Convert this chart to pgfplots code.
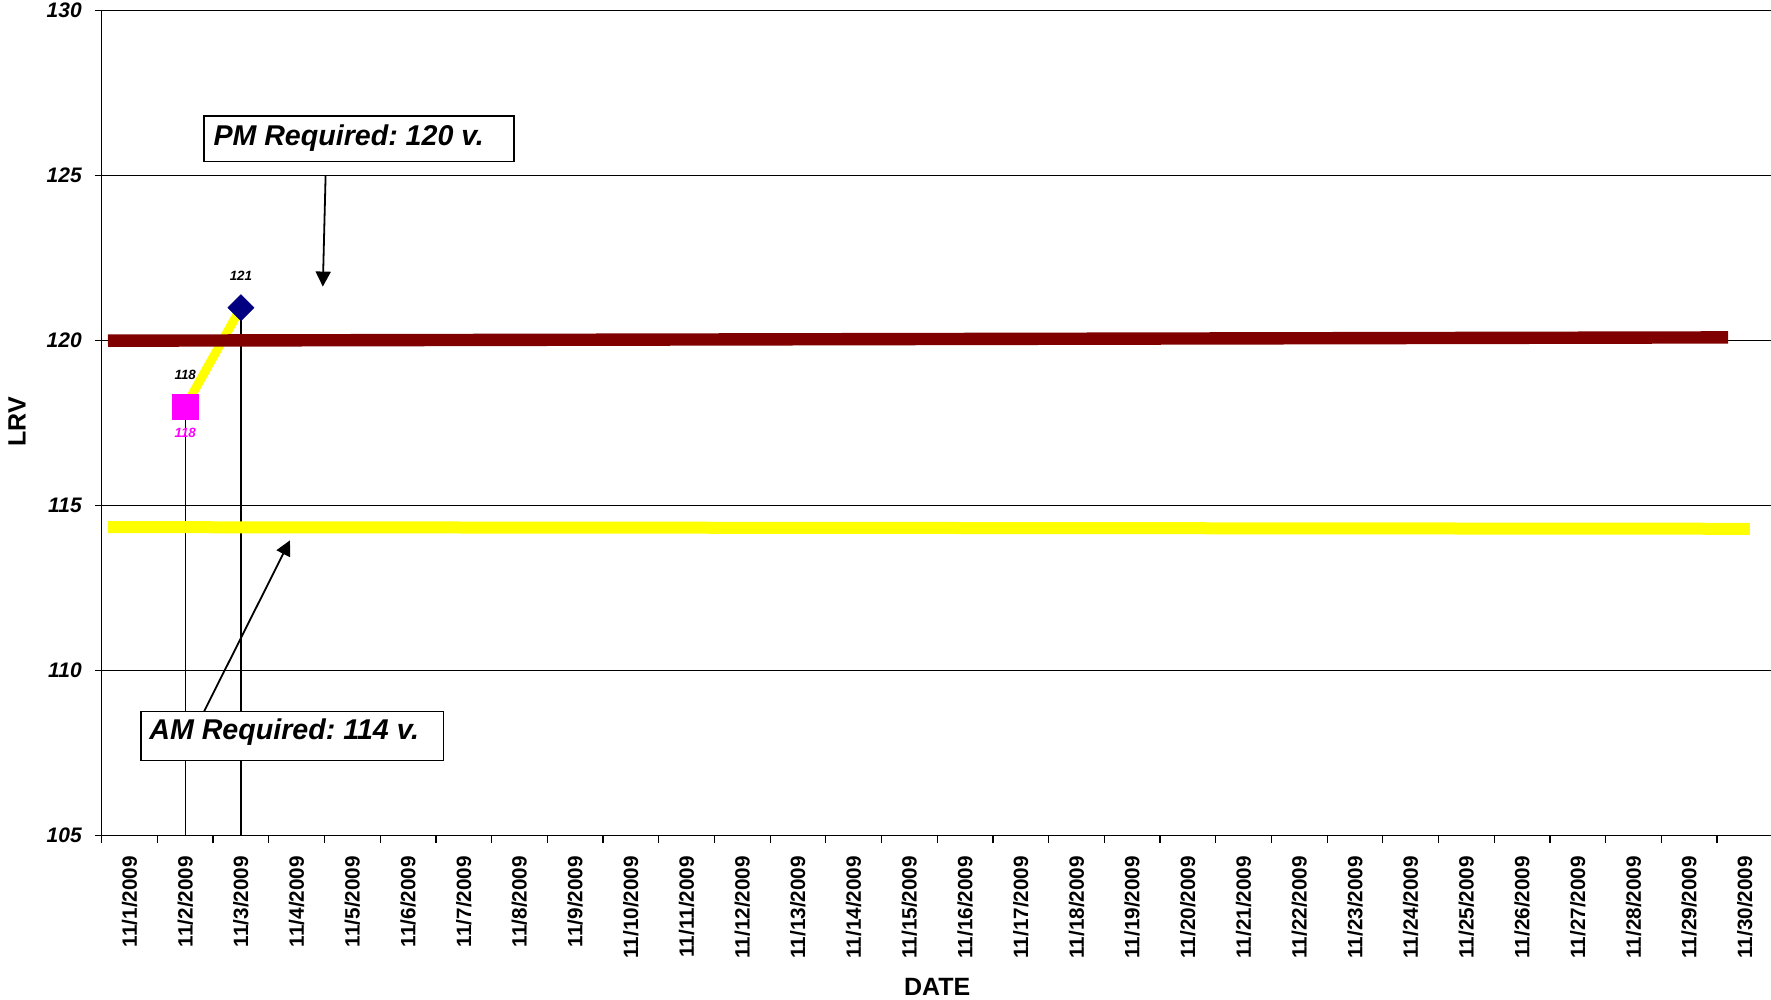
\documentclass[border=0pt]{standalone}
\usepackage{fontspec}
\setmainfont{Liberation Sans}
\usepackage{pgfplots}
\pgfplotsset{compat=1.18}
\usetikzlibrary{arrows.meta}
\definecolor{pmred}{HTML}{800000}
\definecolor{navyb}{HTML}{000080}
\definecolor{mag}{HTML}{FF00FF}
\definecolor{yel}{HTML}{FFFF00}
\frenchspacing
\begin{document}
\begin{tikzpicture}
\begin{axis}[
  scale only axis, width=835.5pt, height=412.5pt,
  at={(0,0)}, anchor=south west,
  xmin=0.5, xmax=30.5, ymin=105, ymax=130,
  clip=false,
  axis x line*=bottom, axis y line*=left,
  axis line style={black, line width=0.6pt},
  /pgf/number format/assume math mode=true,
  ytick={105,110,115,120,125,130},
  ymajorgrids, major grid style={black, line width=0.5pt},
  tick align=outside, major tick length=3.5pt,
  tick style={black, line width=0.6pt},
  xtick={0.5,1.5,...,30.5}, xticklabels={},
  extra x ticks={1,2,...,30},
  extra x tick style={major tick length=0pt, grid=none},
  extra x tick labels={11/1/2009,11/2/2009,11/3/2009,11/4/2009,11/5/2009,11/6/2009,11/7/2009,11/8/2009,11/9/2009,11/10/2009,11/11/2009,11/12/2009,11/13/2009,11/14/2009,11/15/2009,11/16/2009,11/17/2009,11/18/2009,11/19/2009,11/20/2009,11/21/2009,11/22/2009,11/23/2009,11/24/2009,11/25/2009,11/26/2009,11/27/2009,11/28/2009,11/29/2009,11/30/2009},
  xticklabel style={rotate=90, anchor=east, inner sep=0pt, font=\bfseries\fontsize{10.35}{12}\selectfont},
  xticklabel shift=10pt,
  yticklabel style={font=\bfseries\itshape\fontsize{10.5}{12}\selectfont, inner sep=0pt},
  yticklabel shift=6.3pt,
  xlabel={DATE},
  xlabel style={at={(axis description cs:0.5,-0.1834)}, anchor=center, font=\bfseries\fontsize{12.5}{14}\selectfont},
  ylabel={LRV},
  ylabel style={at={(axis description cs:-0.0507,0.5015)}, anchor=center, font=\bfseries\fontsize{12.5}{14}\selectfont},
]
% drop lines
\addplot[black, line width=0.6pt] coordinates {(2,105) (2,118)};
\addplot[black, line width=0.6pt] coordinates {(3,105) (3,121)};
% yellow connecting line with labels above
\addplot[yel, line width=4.5pt, mark=none, nodes near coords,
  nodes near coords style={black, anchor=center, yshift=16pt, inner sep=0pt, font=\bfseries\itshape\fontsize{6.7}{8}\selectfont}]
  coordinates {(2,118) (3,121)};
% AM point
\addplot[only marks, mark=square*, mark size=6.4pt, mark options={fill=mag, draw=mag, line width=0.3pt}, nodes near coords,
  nodes near coords style={mag, anchor=center, yshift=-13pt, inner sep=0pt, font=\bfseries\itshape\fontsize{6.7}{8}\selectfont}]
  coordinates {(2,118)};
% PM point
\addplot[only marks, mark=square*, mark size=4.6pt, mark options={rotate=45, fill=navyb, draw=navyb, line width=0.3pt}]
  coordinates {(3,121)};
% required levels
\addplot[pmred, line width=6.2pt] coordinates {(0.613,120.0) (29.70,120.1)};
\addplot[yel, line width=6pt] coordinates {(0.613,114.35) (30.09,114.3)};
% annotations
\draw[black, line width=0.9pt, -{Triangle[length=7.5pt,width=7.5pt]}] (axis cs:4.52,125.02) -- (axis cs:4.47,121.64);
\draw[black, line width=0.9pt, -{Triangle[length=7.5pt,width=7.5pt]}] (axis cs:2.33,108.74) -- (axis cs:3.88,113.95);
\draw[black, line width=0.8pt, fill=white] (axis cs:2.34,126.80) rectangle (axis cs:7.90,125.43);
\node[anchor=base west, inner sep=0pt, font=\bfseries\itshape\fontsize{14.3}{16}\selectfont] at (axis cs:2.50,125.93) {PM Required: 120 v.};
\draw[black, line width=0.8pt, fill=white] (axis cs:1.21,108.76) rectangle (axis cs:6.64,107.28);
\node[anchor=base west, inner sep=0pt, font=\bfseries\itshape\fontsize{14.3}{16}\selectfont] at (axis cs:1.35,107.90) {AM Required: 114 v.};
\end{axis}
\pgfresetboundingbox
\path[use as bounding box] (-50.85pt,-82.15pt) rectangle (834.65pt,417.85pt);
\end{tikzpicture}
\end{document}
